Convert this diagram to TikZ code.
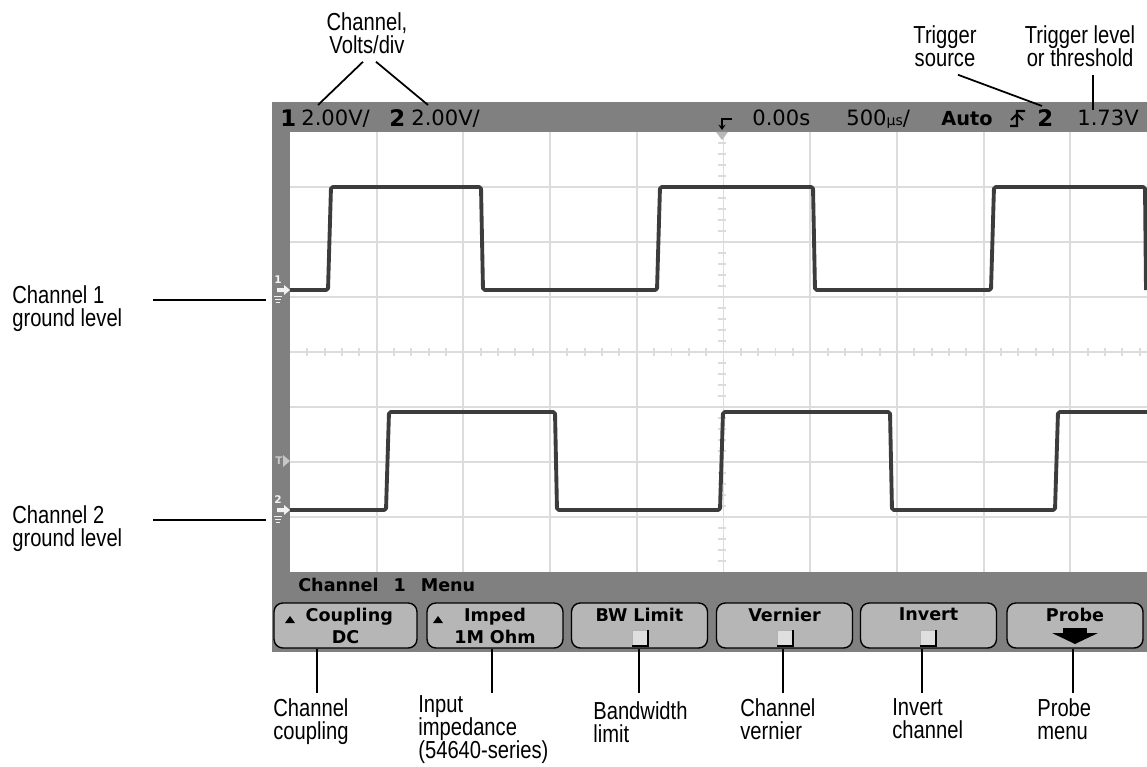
\documentclass[tikz,border=0pt]{standalone}
\usepackage{fontspec}
\setmainfont{Liberation Sans}[FakeStretch=0.82]
\newfontfamily\scrfont{DejaVu Sans}
\usetikzlibrary{arrows.meta}
\definecolor{bezel}{HTML}{808080}
\definecolor{gridc}{HTML}{DCDCDC}
\definecolor{trace}{HTML}{3C3C3C}
\definecolor{keyc}{HTML}{B6B6B6}
\begin{document}
\begin{tikzpicture}[x=0.02cm, y=-0.02cm, >=latex,
    lbl/.style={inner sep=0pt, font=\fontsize{14}{13.1}\selectfont},
    scr/.style={inner sep=0pt, anchor=base west, font=\scrfont\fontsize{12}{12}\selectfont},
    scrb/.style={inner sep=0pt, anchor=base west, font=\scrfont\bfseries\fontsize{13}{13}\selectfont},
    key/.style={draw=black, fill=keyc, rounded corners=5pt, line width=0.8pt,
      minimum width=2.72cm, minimum height=0.9cm, inner sep=0pt, align=center,
      font=\scrfont\bfseries\fontsize{10}{12.5}\selectfont},
    gridln/.style={gridc, line width=1.1pt},
    wave/.style={trace, line width=2.2pt, line join=round, rounded corners=1pt},
    lead/.style={black, line width=1.6pt},
    slant/.style={black, line width=1pt},
    gmark/.style={inner sep=0pt, text=gray!10, font=\scrfont\bfseries\fontsize{6}{6}\selectfont},
    tickbox/.style={fill=gray!25, draw=gray!60, line width=0.5pt}]
  \useasboundingbox (0,0) rectangle (1147,767);

  % scope screen
  \fill[bezel] (272,102) rectangle (1147,652);
  \fill[white] (290,132) rectangle (1147,572);
  \foreach \i in {1,...,9}
    \draw[gridln] (290+86.7*\i,132) -- (290+86.7*\i,572);
  \foreach \j in {1,...,7}
    \draw[gridln] (290,132+55*\j) -- (1147,132+55*\j);
  \foreach \t in {1,...,39}
    \draw[gridln] (718,132+11*\t) -- (726,132+11*\t);
  \foreach \t in {1,...,49}
    \draw[gridln] (290+17.34*\t,348) -- (290+17.34*\t,356);
  \fill[gray!55] (716,132) -- (728,132) -- (722,140) -- cycle;

  % traces
  \draw[wave] (290,290) -- (328,290) -- (331,187) -- (481,187) -- (483,290)
    -- (657,290) -- (660,187) -- (813,187) -- (815,290) -- (991,290)
    -- (994,187) -- (1145,187) -- (1146,290);
  \draw[wave] (290,510) -- (386,510) -- (389,412) -- (555,412) -- (557,510)
    -- (720,510) -- (723,412) -- (890,412) -- (892,510) -- (1055,510)
    -- (1058,412) -- (1147,412);

  % ground markers
  \foreach \n/\yy in {1/290,2/510} {
    \node[gmark] (gm\n) at (278,\yy-10) {\n};
    \fill[gray!10] (277,\yy-2) -- (284,\yy-2) -- (284,\yy-5) -- (290,\yy)
      -- (284,\yy+5) -- (284,\yy+2) -- (277,\yy+2) -- cycle;
    \draw[gray!10, line width=0.5pt] (274,\yy+6) -- (282,\yy+6)
      (275,\yy+9) -- (281,\yy+9) (276,\yy+12) -- (280,\yy+12);
  }
  \node[gmark, text=gray!45] (tm) at (279,461) {T};
  \fill[gray!45] (283,455) -- (290,461) -- (283,467) -- cycle;

  % status line
  \node[scrb] (s1) at (280,127) {1};
  \node[scr] (s1v) at (301,126) {2.00V/};
  \node[scrb] (s2) at (389,127) {2};
  \node[scr] (s2v) at (411,126) {2.00V/};
  \draw[line width=1pt, -{Stealth[length=3pt,width=4pt]}] (732,119) -- (722,119) -- (722,130);
  \node[scr] (stime) at (752,126) {0.00s};
  \node[scr] (sdiv) at (846,126) {500{\fontsize{8}{8}\selectfont µs}/};
  \node[scrb, font=\scrfont\bfseries\fontsize{11}{11}\selectfont] (sauto) at (941,126) {Auto};
  \draw[line width=1.2pt] (1010,126) -- (1017,126) -- (1017,111) -- (1025,111)
    (1011,120) -- (1017,114) -- (1023,120);
  \node[scrb] (strg) at (1037,127) {2};
  \node[scr] (slev) at (1077,126) {1.73V};

  % softkeys
  \node[scrb, font=\scrfont\bfseries\fontsize{10}{10}\selectfont] (menu) at (298,591)
    {Channel\hspace{0.3cm}1\hspace{0.3cm}Menu};
  \node[key, minimum width=2.86cm] (BCpl) at (345.5,625.5) {\hspace*{0.15cm}Coupling\\DC};
  \node[key] (BImp) at (495,625.5) {Imped\\1M\,\,Ohm};
  \node[key] (BBw) at (639.5,625.5) {BW\,\,Limit\\\phantom{DC}};
  \node[key] (BVer) at (784.5,625.5) {Vernier\\\phantom{DC}};
  \node[key] (BInv) at (928.5,625.5) {Invert\\\phantom{DC}};
  \node[key] (BPrb) at (1075,625.5) {Probe\\\phantom{DC}};
  \foreach \bx in {285,433}
    \fill (\bx,623) -- (\bx+10,623) -- (\bx+5,616) -- cycle;
  \foreach \bx in {640,785,928} {
    \draw[tickbox] (\bx-8,630) rectangle (\bx+8,646);
    \draw[black, line width=1pt] (\bx-8,646) -- (\bx+8,646) -- (\bx+8,630);
  }
  \fill (1063,628) rectangle (1087,633);
  \fill (1052,633) -- (1098,633) -- (1075,644) -- cycle;

  % callouts
  \node[lbl, anchor=north, align=center] (CV) at (367,12) {Channel,\\Volts/div};
  \node[lbl, anchor=north, align=center] (TS) at (945,25) {Trigger\\source};
  \node[lbl, anchor=north, align=center] (TL) at (1080,25) {Trigger level\\or threshold};
  \coordinate (cv1) at (318,105);
  \coordinate (cv2) at (428,105);
  \coordinate (ts) at (1042,106);
  \coordinate (tl) at (1093,110);
  \draw[slant] ([shift={(-4,8)}]CV.south) -- (cv1);
  \draw[slant] ([shift={(9,8)}]CV.south) -- (cv2);
  \draw[slant] ([shift={(13,8)}]TS.south) -- (ts);
  \draw[lead] (tl |- TL.south) ++(0,8) -- (tl);

  \node[lbl, anchor=north west, align=left] (CG1) at (12,285) {Channel 1\\ground level};
  \node[lbl, anchor=north west, align=left] (CG2) at (12,505) {Channel 2\\ground level};
  \coordinate (g1a) at (153,300);
  \coordinate (g1b) at (266,300);
  \coordinate (g2a) at (153,520);
  \coordinate (g2b) at (266,520);
  \draw[lead] (g1a) -- (g1b);
  \draw[lead] (g2a) -- (g2b);

  \node[lbl, anchor=north west, align=left] (LCpl) at (273,698) {Channel\\coupling};
  \node[lbl, anchor=north west, align=left] (LImp) at (418,695) {Input\\impedance\\(54640-series)};
  \node[lbl, anchor=north west, align=left] (LBw) at (593,701) {Bandwidth\\limit};
  \node[lbl, anchor=north west, align=left] (LVer) at (740,698) {Channel\\vernier};
  \node[lbl, anchor=north west, align=left] (LInv) at (892,698) {Invert\\channel};
  \node[lbl, anchor=north west, align=left] (LPrb) at (1037,698) {Probe\\menu};
  \coordinate (kCpl) at (317,693);
  \coordinate (kImp) at (492,693);
  \coordinate (kBw) at (639,693);
  \coordinate (kVer) at (783,693);
  \coordinate (kInv) at (922,693);
  \coordinate (kPrb) at (1073,693);
  \draw[lead] (kCpl |- BCpl.south) -- (kCpl);
  \draw[lead] (kImp |- BImp.south) -- (kImp);
  \draw[lead] (kBw |- BBw.south) -- (kBw);
  \draw[lead] (kVer |- BVer.south) -- (kVer);
  \draw[lead] (kInv |- BInv.south) -- (kInv);
  \draw[lead] (kPrb |- BPrb.south) -- (kPrb);
\end{tikzpicture}
\end{document}
